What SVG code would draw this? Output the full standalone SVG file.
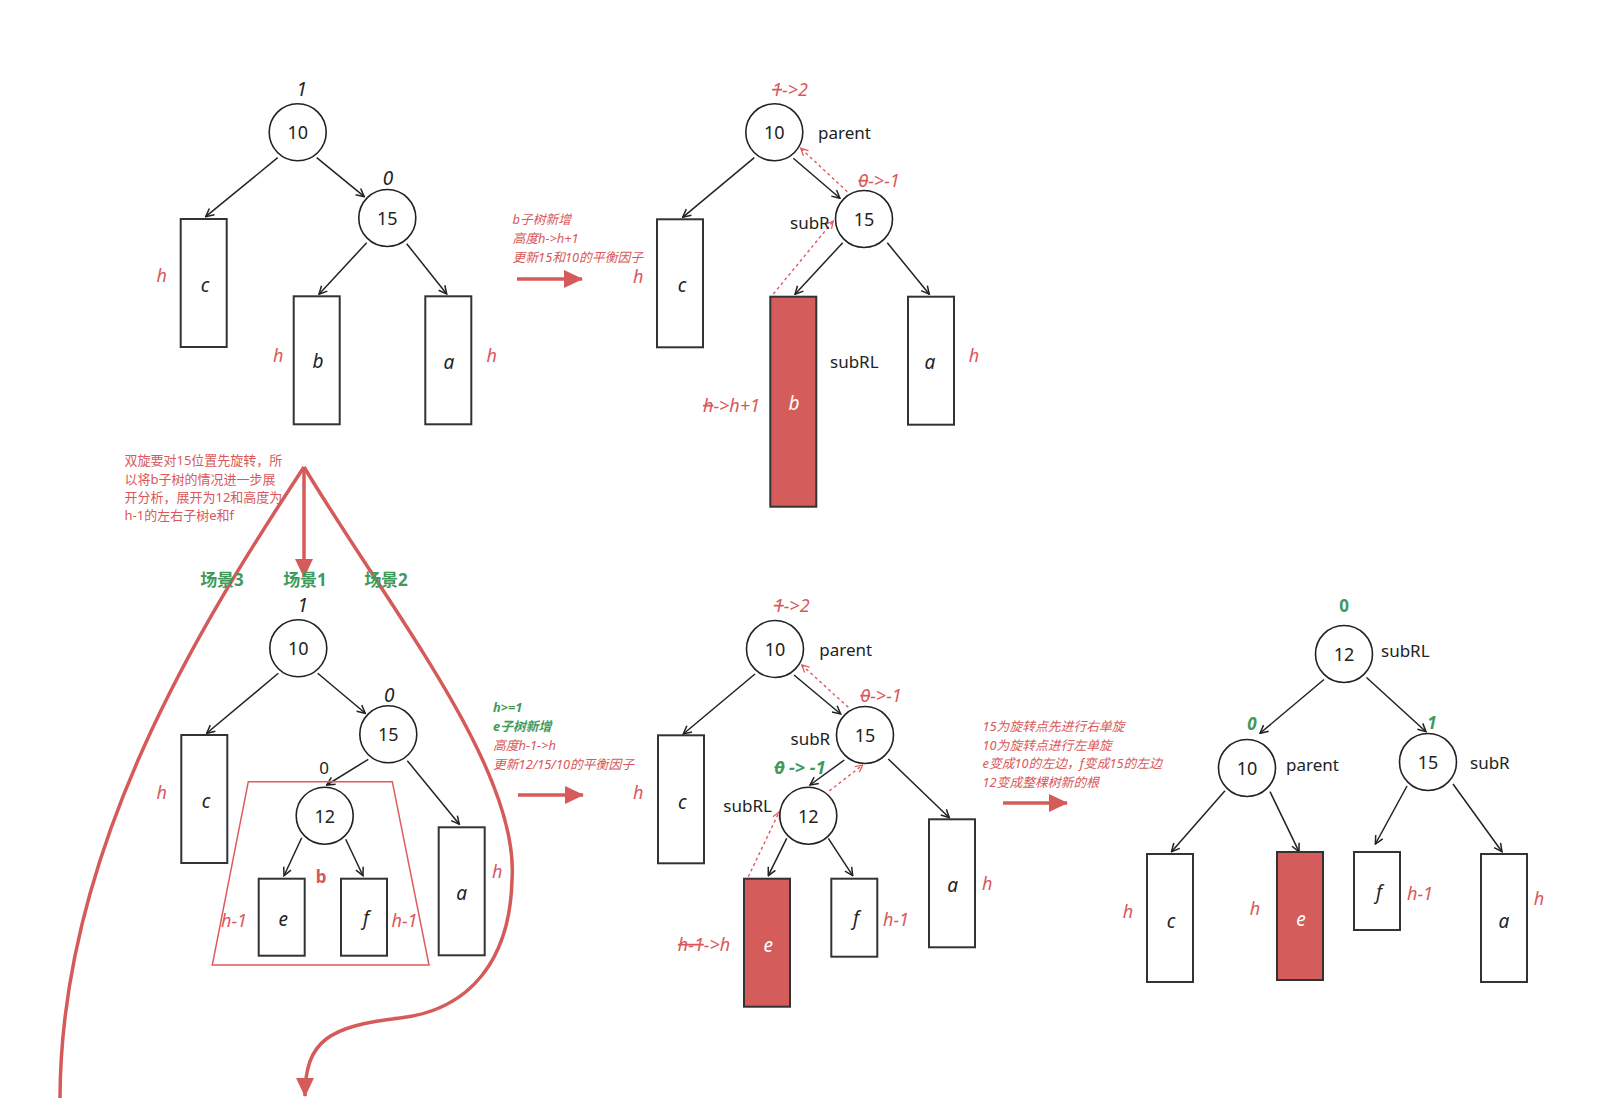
<svg xmlns="http://www.w3.org/2000/svg" width="1604" height="1098" viewBox="0 0 1604 1098">
<style>
text{font-family:"Noto Sans","Noto Sans CJK SC",sans-serif;dominant-baseline:central}
.n{font-size:18px;fill:#222;text-anchor:middle}
.w{font-size:17px;fill:#222}
.i{font-size:19px;font-style:italic;fill:#222;text-anchor:middle}
.r{font-size:18px;font-style:italic;fill:#d9585a;text-anchor:middle}
.ann{font-size:12.8px;font-style:italic;fill:#d9585a}
.note{font-size:13px;fill:#d9585a}
.g{font-weight:bold;fill:#3f9a5b}
.sc{font-size:17px;font-weight:bold;fill:#3f9a5b;text-anchor:middle}
.st{text-decoration:line-through}
circle.nd{fill:#fff;stroke:#222;stroke-width:1.6}
rect.bx{fill:#fff;stroke:#333;stroke-width:2}
rect.hot{fill:#d45d5b;stroke:#333;stroke-width:2}
.wt{fill:#fff}
.e{stroke:#222;stroke-width:1.5;fill:none;marker-end:url(#ah)}
.d{stroke:#e05a5a;stroke-width:1.4;stroke-dasharray:3 3;fill:none;marker-end:url(#ahr)}
.big{stroke:#d45b5a;stroke-width:3.5;fill:none}
</style>
<defs>
<marker id="ah" viewBox="0 0 10 10" refX="9" refY="5" markerWidth="10" markerHeight="10" markerUnits="userSpaceOnUse" orient="auto"><path d="M1,1 L9,5 L1,9" fill="none" stroke="#222" stroke-width="1.5"/></marker>
<marker id="ahr" viewBox="0 0 10 10" refX="9" refY="5" markerWidth="9" markerHeight="9" markerUnits="userSpaceOnUse" orient="auto"><path d="M1,1 L9,5 L1,9" fill="none" stroke="#e05a5a" stroke-width="1.4"/></marker>
<marker id="tri" viewBox="0 0 20 20" refX="18" refY="10" markerWidth="20" markerHeight="20" markerUnits="userSpaceOnUse" orient="auto"><path d="M0,1 L19,10 L0,19 Z" fill="#d45b5a"/></marker>
</defs>
<rect x="0" y="0" width="1604" height="1098" fill="#fff"/>

<g id="scene-curves">
<path class="big" d="M304 467 C200 625,60 850,60 1100"/>
<path class="big" d="M304 467 C390 610,520 770,512 880 C510 960,470 1010,400 1018 C330 1026,305 1040,305 1096" marker-end="url(#tri)"/>
<path class="big" d="M304 467 L304 577" marker-end="url(#tri)"/>
</g>

<g id="connectors">
<line class="e" x1="277.7" y1="157.7" x2="205.7" y2="216.7"/>
<line class="e" x1="316.7" y1="157.7" x2="364.3" y2="196.7"/>
<line class="e" x1="366.7" y1="242.7" x2="319" y2="294.3"/>
<line class="e" x1="406.7" y1="243.7" x2="446.7" y2="294"/>
<line class="e" x1="754.3" y1="157.7" x2="682.7" y2="217.3"/>
<line class="e" x1="793.3" y1="158.3" x2="840" y2="198.3"/>
<line class="e" x1="842.7" y1="242.7" x2="795" y2="294.3"/>
<line class="e" x1="887.3" y1="242.7" x2="929.3" y2="294.3"/>
<line class="d" x1="847.3" y1="191.7" x2="800.7" y2="148.3"/>
<line class="d" x1="773.3" y1="294" x2="833.3" y2="221"/>
<line class="e" x1="278.3" y1="673.3" x2="206.7" y2="733.3"/>
<line class="e" x1="317.7" y1="673.3" x2="365.3" y2="713.3"/>
<line class="e" x1="368.3" y1="759.3" x2="326.7" y2="785"/>
<line class="e" x1="407.3" y1="760.7" x2="459.3" y2="824.3"/>
<line class="e" x1="301.7" y1="837.7" x2="284" y2="875.7"/>
<line class="e" x1="345.7" y1="839.3" x2="363" y2="875.7"/>
<line class="e" x1="755" y1="674" x2="683.3" y2="734"/>
<line class="e" x1="794" y1="675" x2="840.7" y2="714"/>
<line class="e" x1="844.3" y1="760" x2="810" y2="785"/>
<line class="e" x1="888.3" y1="759" x2="949.3" y2="817.7"/>
<line class="e" x1="786.7" y1="838.3" x2="768.3" y2="875.7"/>
<line class="e" x1="828.3" y1="838.3" x2="852.7" y2="875.7"/>
<line class="d" x1="848.3" y1="707.3" x2="801.7" y2="665"/>
<line class="d" x1="829.3" y1="791" x2="862.7" y2="765"/>
<line class="d" x1="748.3" y1="876.7" x2="779.3" y2="811.7"/>
<line class="e" x1="1324" y1="679.5" x2="1260" y2="733.3"/>
<line class="e" x1="1366.5" y1="677.5" x2="1426" y2="731.7"/>
<line class="e" x1="1225" y1="790.7" x2="1171.5" y2="851.7"/>
<line class="e" x1="1270" y1="791.7" x2="1299" y2="851.7"/>
<line class="e" x1="1407" y1="786" x2="1375.4" y2="844"/>
<line class="e" x1="1453" y1="784" x2="1502" y2="851.7"/>
<line class="big" x1="517" y1="279" x2="582" y2="279" marker-end="url(#tri)"/>
<line class="big" x1="518" y1="795" x2="583" y2="795" marker-end="url(#tri)"/>
<line class="big" x1="1003" y1="803" x2="1067" y2="803" marker-end="url(#tri)"/>
</g>

<g id="tl-n10"><circle class="nd" cx="297.7" cy="132.3" r="28.5"/><text class="n" x="297.7" y="132.3">10</text></g>
<g id="tl-n15"><circle class="nd" cx="387.3" cy="218" r="28.5"/><text class="n" x="387.3" y="218">15</text></g>
<g id="tl-c"><rect class="bx" x="180.7" y="219" width="46" height="128"/><text class="i" x="205" y="285">c</text></g>
<g id="tl-b"><rect class="bx" x="293.7" y="296.3" width="46" height="128"/><text class="i" x="318" y="361">b</text></g>
<g id="tl-a"><rect class="bx" x="425.3" y="296.3" width="46" height="128"/><text class="i" x="449" y="362">a</text></g>
<g id="tl-labels">
<text class="i" x="301.7" y="89">1</text>
<text class="i" x="388" y="178">0</text>
<text class="r" x="161.7" y="275">h</text>
<text class="r" x="278.3" y="355">h</text>
<text class="r" x="491.7" y="355">h</text>
</g>

<g id="note-top">
<text class="ann" x="512.5" y="219">b子树新增</text>
<text class="ann" x="512.5" y="238">高度h-&gt;h+1</text>
<text class="ann" x="512.5" y="256.5">更新15和10的平衡因子</text>
</g>

<g id="tr-n10"><circle class="nd" cx="774.3" cy="132.3" r="28.5"/><text class="n" x="774.3" y="132.3">10</text></g>
<g id="tr-n15"><circle class="nd" cx="864" cy="219" r="28.5"/><text class="n" x="864" y="219">15</text></g>
<g id="tr-c"><rect class="bx" x="657" y="219.3" width="46" height="128"/><text class="i" x="682" y="285">c</text></g>
<g id="tr-b"><rect class="hot" x="770.3" y="296.7" width="46" height="210"/><text class="i wt" x="794" y="403">b</text></g>
<g id="tr-a"><rect class="bx" x="908" y="296.7" width="46" height="128"/><text class="i" x="930" y="362">a</text></g>
<g id="tr-labels">
<text class="r" x="790" y="89"><tspan class="st">1</tspan>-&gt;2</text>
<text class="r" x="879" y="180"><tspan class="st">0</tspan>-&gt;-1</text>
<text class="w" x="818" y="132">parent</text>
<text class="w" x="790" y="222">subR</text>
<text class="w" x="830" y="361.7">subRL</text>
<text class="r" x="731.5" y="405"><tspan class="st">h</tspan>-&gt;h+1</text>
<text class="r" x="638.3" y="276">h</text>
<text class="r" x="974" y="355">h</text>
</g>

<g id="note-left">
<text class="note" x="124.5" y="460">双旋要对15位置先旋转，所</text>
<text class="note" x="124.5" y="478.5">以将b子树的情况进一步展</text>
<text class="note" x="124.5" y="497">开分析，展开为12和高度为</text>
<text class="note" x="124.5" y="515">h-1的左右子树e和f</text>
</g>
<g id="scenes">
<text class="sc" x="222" y="579">场景3</text>
<text class="sc" x="305" y="579">场景1</text>
<text class="sc" x="386" y="579">场景2</text>
</g>

<g id="bl-b"><polygon points="248.3,781.7 392.3,781.7 429,965 212.3,965" fill="none" stroke="#e05a5a" stroke-width="1.5"/><text x="321" y="876" style="font-size:17px;font-weight:bold;fill:#d9585a;text-anchor:middle">b</text></g>
<g id="bl-n10"><circle class="nd" cx="298.3" cy="648.3" r="28.5"/><text class="n" x="298.3" y="648.3">10</text></g>
<g id="bl-n15"><circle class="nd" cx="388.3" cy="734.3" r="28.5"/><text class="n" x="388.3" y="734.3">15</text></g>
<g id="bl-n12"><circle class="nd" cx="324.7" cy="815.7" r="28.5"/><text class="n" x="324.7" y="815.7">12</text></g>
<g id="bl-c"><rect class="bx" x="181.3" y="735" width="46" height="128"/><text class="i" x="206" y="801">c</text></g>
<g id="bl-a"><rect class="bx" x="438.7" y="827.3" width="46" height="128"/><text class="i" x="461.7" y="893">a</text></g>
<g id="bl-e"><rect class="bx" x="258.7" y="878.7" width="46" height="77"/><text class="i" x="283.3" y="919">e</text></g>
<g id="bl-f"><rect class="bx" x="341" y="878.7" width="46" height="77"/><text class="i" x="366" y="918">f</text></g>
<g id="bl-labels">
<text class="i" x="302.7" y="605">1</text>
<text class="i" x="389.3" y="695">0</text>
<text class="n" x="324" y="767" style="font-size:17px">0</text>
<text class="r" x="161.7" y="791.7">h</text>
<text class="r" x="497.3" y="871">h</text>
<text class="r" x="234" y="920">h-1</text>
<text class="r" x="404.5" y="920">h-1</text>
</g>

<g id="note-mid">
<text class="ann g" x="493" y="707">h&gt;=1</text>
<text class="ann g" x="493" y="726">e子树新增</text>
<text class="ann" x="493" y="745">高度h-1-&gt;h</text>
<text class="ann" x="493" y="764">更新12/15/10的平衡因子</text>
</g>

<g id="bm-n10"><circle class="nd" cx="775" cy="649" r="28.5"/><text class="n" x="775" y="649">10</text></g>
<g id="bm-n15"><circle class="nd" cx="865" cy="735" r="28.5"/><text class="n" x="865" y="735">15</text></g>
<g id="bm-n12"><circle class="nd" cx="808.3" cy="815.7" r="28.5"/><text class="n" x="808.3" y="815.7">12</text></g>
<g id="bm-c"><rect class="bx" x="658" y="735.3" width="46" height="128"/><text class="i" x="682.3" y="801.7">c</text></g>
<g id="bm-e"><rect class="hot" x="744" y="878.7" width="46" height="128"/><text class="i wt" x="768.3" y="945">e</text></g>
<g id="bm-f"><rect class="bx" x="831.3" y="878.7" width="46" height="78"/><text class="i" x="856" y="918">f</text></g>
<g id="bm-a"><rect class="bx" x="929" y="819.3" width="46" height="128"/><text class="i" x="952.7" y="885">a</text></g>
<g id="bm-labels">
<text class="r" x="791.7" y="605"><tspan class="st">1</tspan>-&gt;2</text>
<text class="r" x="881" y="695"><tspan class="st">0</tspan>-&gt;-1</text>
<text class="w" x="819.3" y="649">parent</text>
<text class="w" x="790.5" y="738">subR</text>
<text class="r g" x="800" y="766.5" style="font-size:18px"><tspan class="st">0</tspan> -&gt; -1</text>
<text class="w" x="723.3" y="805">subRL</text>
<text class="r" x="638.3" y="791.7">h</text>
<text class="r" x="987.3" y="883">h</text>
<text class="r" x="896" y="919">h-1</text>
<text class="r" x="704" y="944"><tspan class="st">h-1</tspan>-&gt;h</text>
</g>

<g id="note-right">
<text class="ann" x="982.5" y="725.5">15为旋转点先进行右单旋</text>
<text class="ann" x="982.5" y="744.5">10为旋转点进行左单旋</text>
<text class="ann" x="982.5" y="763.3">e变成10的左边，f变成15的左边</text>
<text class="ann" x="982.5" y="782.3">12变成整棵树新的根</text>
</g>

<g id="r-n12"><circle class="nd" cx="1344" cy="654" r="28.5"/><text class="n" x="1344" y="654">12</text></g>
<g id="r-n10"><circle class="nd" cx="1247" cy="768" r="28.5"/><text class="n" x="1247" y="768">10</text></g>
<g id="r-n15"><circle class="nd" cx="1428" cy="762" r="28.5"/><text class="n" x="1428" y="762">15</text></g>
<g id="r-c"><rect class="bx" x="1147" y="854" width="46" height="128"/><text class="i" x="1171" y="921">c</text></g>
<g id="r-e"><rect class="hot" x="1277" y="852" width="46" height="128"/><text class="i wt" x="1301" y="919">e</text></g>
<g id="r-f"><rect class="bx" x="1354" y="852" width="46" height="78"/><text class="i" x="1379" y="892">f</text></g>
<g id="r-a"><rect class="bx" x="1481" y="854" width="46" height="128"/><text class="i" x="1504" y="921">a</text></g>
<g id="r-labels">
<text class="n g" x="1344" y="605" style="font-size:17px">0</text>
<text class="r g" x="1252" y="723" style="font-size:17px">0</text>
<text class="r g" x="1432" y="722" style="font-size:17px">1</text>
<text class="w" x="1381" y="650">subRL</text>
<text class="w" x="1286" y="764">parent</text>
<text class="w" x="1470" y="762">subR</text>
<text class="r" x="1128" y="911">h</text>
<text class="r" x="1255" y="908">h</text>
<text class="r" x="1420" y="893">h-1</text>
<text class="r" x="1539" y="898">h</text>
</g>
</svg>
